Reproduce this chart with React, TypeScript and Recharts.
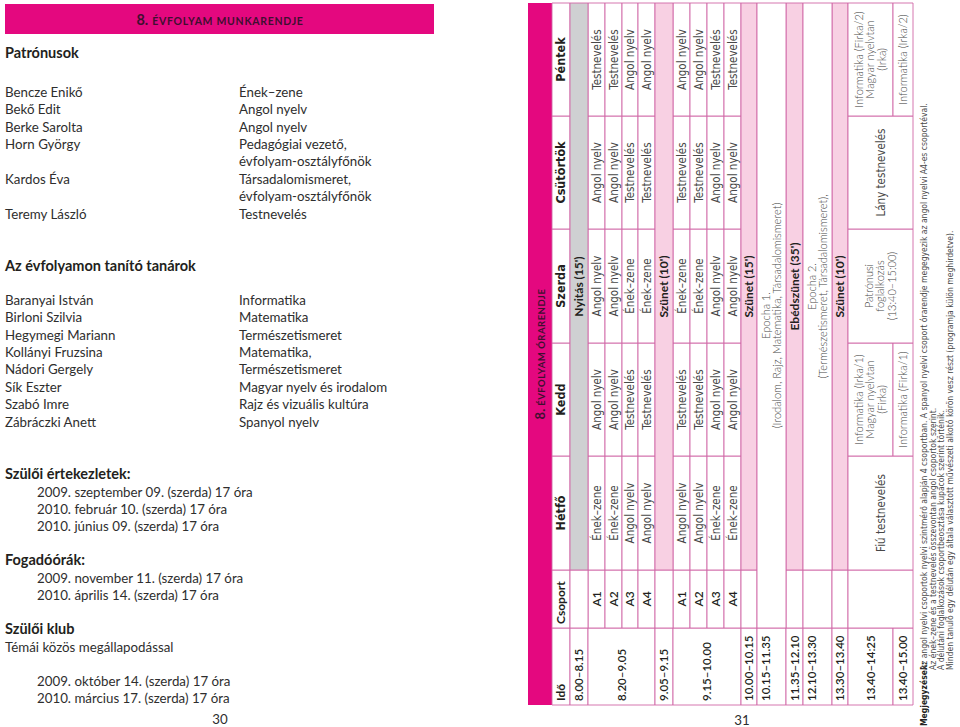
import React from 'react';
import { Surface, Layer, Rectangle, Text } from 'recharts';

// ---- left page data ----
const leftTitle = 'ÉVFOLYAM MUNKARENDJE';
const patronNames = ['Bencze Enikő', 'Bekő Edit', 'Berke Sarolta', 'Horn György', '', 'Kardos Éva', '', 'Teremy László'];
const patronRoles = [
  'Ének–zene',
  'Angol nyelv',
  'Angol nyelv',
  'Pedagógiai vezető,',
  'évfolyam-osztályfőnök',
  'Társadalomismeret,',
  'évfolyam-osztályfőnök',
  'Testnevelés',
];
const teacherNames = [
  'Baranyai István',
  'Birloni Szilvia',
  'Hegymegi Mariann',
  'Kollányi Fruzsina',
  'Nádori Gergely',
  'Sík Eszter',
  'Szabó Imre',
  'Zábráczki Anett',
];
const teacherSubjects = [
  'Informatika',
  'Matematika',
  'Természetismeret',
  'Matematika,',
  'Természetismeret',
  'Magyar nyelv és irodalom',
  'Rajz és vizuális kultúra',
  'Spanyol nyelv',
];
const meetings = [
  '2009. szeptember 09. (szerda) 17 óra',
  '2010. február 10. (szerda) 17 óra',
  '2010. június 09. (szerda) 17 óra',
];
const officeHours = ['2009. november 11. (szerda) 17 óra', '2010. április 14. (szerda) 17 óra'];
const clubDates = ['2009. október 14. (szerda) 17 óra', '2010. március 17. (szerda) 17 óra'];

// ---- timetable data ----
const tableTitle = 'ÉVFOLYAM ÓRARENDJE';
const days = ['Hétfő', 'Kedd', 'Szerda', 'Csütörtök', 'Péntek'];
const groupNames = ['A1', 'A2', 'A3', 'A4'];
const times = [
  '8.00–8.15',
  '8.20–9.05',
  '9.05–9.15',
  '9.15–10.00',
  '10.00–10.15',
  '10.15–11.35',
  '11.35–12.10',
  '12.10–13.30',
  '13.30–13.40',
  '13.40–14:25',
  '13.40–15.00',
];
const firstBlock = [
  ['Ének–zene', 'Angol nyelv', 'Angol nyelv', 'Angol nyelv', 'Testnevelés'],
  ['Ének–zene', 'Angol nyelv', 'Angol nyelv', 'Angol nyelv', 'Testnevelés'],
  ['Angol nyelv', 'Testnevelés', 'Ének–zene', 'Testnevelés', 'Angol nyelv'],
  ['Angol nyelv', 'Testnevelés', 'Ének–zene', 'Testnevelés', 'Angol nyelv'],
];
const secondBlock = [
  ['Angol nyelv', 'Testnevelés', 'Ének–zene', 'Testnevelés', 'Angol nyelv'],
  ['Angol nyelv', 'Testnevelés', 'Ének–zene', 'Testnevelés', 'Angol nyelv'],
  ['Ének–zene', 'Angol nyelv', 'Angol nyelv', 'Angol nyelv', 'Testnevelés'],
  ['Ének–zene', 'Angol nyelv', 'Angol nyelv', 'Angol nyelv', 'Testnevelés'],
];
const breaks = ["Nyitás (15')", "Szünet (10')", "Szünet (15')", "Ebédszünet (35')", "Szünet (10')"];
const epochs = [
  ['Epocha 1.', '(Irodalom, Rajz, Matematika, Társadalomismeret)'],
  ['Epocha 2.', '(Természetismeret, Társadalomismeret),'],
];
const afternoonFirst = [
  ['Fiú testnevelés'],
  ['Informatika (Irka/1)', 'Magyar nyelvtan', '(Firka)'],
  ['Patrónusi', 'foglalkozás', '(13:40–15:00)'],
  ['Lány testnevelés'],
  ['Informatika (Firka/2)', 'Magyar nyelvtan', '(Irka)'],
];
const afternoonSecond = [null, ['Informatika (Firka/1)'], null, null, ['Informatika (Irka/2)']];
const notesLabel = 'Megjegyzések:';
const notes = [
  'Az angol nyelvi csoportok nyelvi szintmérő alapján 4 csoportban. A spanyol nyelvi csoport órarendje megegyezik az angol nyelvi A4-es csoportéval.',
  'Az ének–zene és a testnevelés összevontan angol csoportok szerint.',
  'A délutáni foglalkozások csoportbeosztása kupacok szerint történik.',
  'Minden tanuló egy délután egy általa választott művészeti alkotó körön vesz részt (programja külön meghirdetve).',
];

// ---- layout ----
const W = 960;
const H = 727;
const MAGENTA = '#e4087f';
const TITLE_INK = '#3f0f30';
const LINE = '#d066a6';
const PINK = '#f8d0e3';
const GREY = '#cfd0d2';
const INK = '#231f20';
const SOFT = '#474747';
const SANS = "Lato, 'Open Sans', sans-serif";
const NARROW = "'Liberation Sans Narrow', 'DejaVu Sans Condensed', sans-serif";

// table is drawn in its own frame, rotated 90° counter-clockwise onto the page
const ORIGIN_X = 528;
const ORIGIN_Y = 705;
const COL = [0, 77, 135, 249, 362, 476, 589, 702];
const ROW = [0, 24, 42, 60, 77, 94, 110, 127, 145, 162, 179, 196, 213, 229, 258, 275, 304, 320, 365, 385];
const timeSpans = [[2, 3], [3, 7], [7, 8], [8, 12], [12, 13], [13, 14], [14, 15], [15, 16], [16, 17], [17, 18], [18, 19]];
const breakRows = [2, 7, 12, 14, 16];

type Kind = 'head' | 'headL' | 'time' | 'group' | 'cell' | 'break' | 'wide';
type Cell = { c0: number; c1: number; r0: number; r1: number; lines: string[]; kind: Kind; fill?: string; top?: boolean };

const styles: Record<Kind, any> = {
  head: { fontFamily: NARROW, fontWeight: 700, fontSize: 12.5, fill: INK },
  headL: { fontFamily: SANS, fontWeight: 700, fontSize: 12, fill: INK },
  time: { fontFamily: SANS, fontWeight: 600, fontSize: 11.5, fill: INK },
  group: { fontFamily: SANS, fontWeight: 600, fontSize: 12, fill: INK },
  cell: { fontFamily: NARROW, fontWeight: 400, fontSize: 11.5, fill: SOFT },
  break: { fontFamily: SANS, fontWeight: 700, fontSize: 12, fill: INK },
  wide: { fontFamily: SANS, fontWeight: 300, fontSize: 11, fill: SOFT },
};

function buildCells(): Cell[] {
  const out: Cell[] = [];
  const add = (c0: number, c1: number, r0: number, r1: number, lines: string[], kind: Kind, fill?: string, top?: boolean) =>
    out.push({ c0, c1, r0, r1, lines, kind, fill, top });

  add(0, 1, 1, 2, ['Idő'], 'headL');
  add(1, 2, 1, 2, ['Csoport'], 'headL');
  days.forEach((d, i) => add(i + 2, i + 3, 1, 2, [d], 'head'));

  timeSpans.forEach(([r0, r1], i) => add(0, 1, r0, r1, [times[i]], 'time', undefined, i === 5 || i === 7));

  const blocks: [number, string[][]][] = [[3, firstBlock], [8, secondBlock]];
  blocks.forEach(([start, block]) =>
    block.forEach((row, g) => {
      add(1, 2, start + g, start + g + 1, [groupNames[g]], 'group');
      row.forEach((s, d) => add(d + 2, d + 3, start + g, start + g + 1, [s], 'cell'));
    })
  );

  [2, 7, 12, 14, 15, 16].forEach((r) => add(1, 2, r, r + 1, [], 'cell'));
  add(1, 2, 17, 19, [], 'cell');

  breakRows.forEach((r, i) => add(2, 7, r, r + 1, [breaks[i]], 'break', i === 0 ? GREY : PINK));

  add(1, 7, 13, 14, epochs[0], 'wide');
  add(2, 7, 15, 16, epochs[1], 'wide');

  afternoonFirst.forEach((lines, d) => {
    const second = afternoonSecond[d];
    const kind: Kind = lines[0].includes('testnevelés') ? 'cell' : 'wide';
    if (second) {
      add(d + 2, d + 3, 17, 18, lines, kind);
      add(d + 2, d + 3, 18, 19, second, 'wide');
    } else {
      add(d + 2, d + 3, 17, 19, lines, kind);
    }
  });
  return out;
}

const Line = ({ x, y, children, style, anchor = 'start' }: any) => (
  <Text x={x} y={y} textAnchor={anchor} verticalAnchor="middle" {...style}>
    {children}
  </Text>
);

const bodyStyle = { fontFamily: SANS, fontWeight: 400, fontSize: 13.3, fill: '#2e2e2e' };
const headStyle = { fontFamily: SANS, fontWeight: 700, fontSize: 14.5, fill: INK };

const LeftPage = () => {
  const step = 17.4;
  return (
    <Layer>
      <Rectangle x={5} y={4} width={429} height={30} fill={MAGENTA} />
      <text x={220} y={24.5} textAnchor="middle" fill={TITLE_INK} fontFamily={SANS} fontWeight={700}>
        <tspan fontSize={14.5}>8.</tspan>
        <tspan fontSize={10.5} dx={4} letterSpacing={0.7}>
          {leftTitle}
        </tspan>
      </text>

      <Line x={5} y={53} style={headStyle}>Patrónusok</Line>
      {patronNames.map((n, i) => n && <Line key={`pn${i}`} x={5} y={92 + i * step} style={bodyStyle}>{n}</Line>)}
      {patronRoles.map((r, i) => <Line key={`pr${i}`} x={239} y={92 + i * step} style={bodyStyle}>{r}</Line>)}

      <Line x={5} y={266} style={headStyle}>Az évfolyamon tanító tanárok</Line>
      {teacherNames.map((n, i) => <Line key={`tn${i}`} x={5} y={300 + i * step} style={bodyStyle}>{n}</Line>)}
      {teacherSubjects.map((s, i) => <Line key={`ts${i}`} x={239} y={300 + i * step} style={bodyStyle}>{s}</Line>)}

      <Line x={5} y={474} style={headStyle}>Szülői értekezletek:</Line>
      {meetings.map((m, i) => <Line key={`m${i}`} x={37} y={492 + i * 17} style={bodyStyle}>{m}</Line>)}

      <Line x={5} y={560} style={headStyle}>Fogadóórák:</Line>
      {officeHours.map((m, i) => <Line key={`o${i}`} x={37} y={578 + i * 17} style={bodyStyle}>{m}</Line>)}

      <Line x={5} y={629} style={headStyle}>Szülői klub</Line>
      <Line x={5} y={647} style={bodyStyle}>Témái közös megállapodással</Line>
      {clubDates.map((m, i) => <Line key={`c${i}`} x={37} y={681 + i * 17} style={bodyStyle}>{m}</Line>)}

      <Line x={220} y={719} anchor="middle" style={bodyStyle}>30</Line>
    </Layer>
  );
};

const RightPage = () => {
  const cells = buildCells();
  const lh = (k: Kind) => (k === 'wide' ? 11.8 : 12);
  return (
    <Layer>
      <g transform={`translate(${ORIGIN_X},${ORIGIN_Y}) rotate(-90)`}>
        <Rectangle x={COL[0]} y={ROW[0]} width={COL[7]} height={ROW[1]} fill={MAGENTA} />
        <text x={COL[7] / 2} y={17} textAnchor="middle" fill={TITLE_INK} fontFamily={SANS} fontWeight={700}>
          <tspan fontSize={13}>8.</tspan>
          <tspan fontSize={9.5} dx={3} letterSpacing={0.5}>
            {tableTitle}
          </tspan>
        </text>

        {cells.map((c, i) => (
          <Rectangle
            key={`r${i}`}
            x={COL[c.c0]}
            y={ROW[c.r0]}
            width={COL[c.c1] - COL[c.c0]}
            height={ROW[c.r1] - ROW[c.r0]}
            fill={c.fill || '#ffffff'}
            stroke={LINE}
            strokeWidth={0.9}
          />
        ))}

        {cells.map((c, i) => {
          const n = c.lines.length;
          const h = lh(c.kind);
          const left = c.kind === 'time' || c.kind === 'headL';
          const x = left ? COL[c.c0] + 4 : (COL[c.c0] + COL[c.c1]) / 2;
          const mid = (ROW[c.r0] + ROW[c.r1]) / 2;
          const y0 = c.top ? mid - 6 : mid - ((n - 1) * h) / 2;
          return c.lines.map((s, j) => (
            <Line key={`t${i}-${j}`} x={x} y={y0 + j * h} anchor={left ? 'start' : 'middle'} style={styles[c.kind]}>
              {s}
            </Line>
          ));
        })}

        <Line x={-21} y={396} style={{ fontFamily: NARROW, fontWeight: 700, fontSize: 8.5, fill: INK }}>
          {notesLabel}
        </Line>
        {notes.map((s, i) => (
          <Line key={`n${i}`} x={35} y={396 + i * 8.6} style={{ fontFamily: NARROW, fontWeight: 400, fontSize: 8.5, fill: SOFT }}>
            {s}
          </Line>
        ))}
      </g>
      <Line x={742} y={720} anchor="middle" style={bodyStyle}>31</Line>
    </Layer>
  );
};

export default function App() {
  return (
    <div style={{ position: 'absolute', left: 0, top: 0, width: W, height: H, background: '#ffffff' }}>
      <Surface width={W} height={H}>
        <LeftPage />
        <RightPage />
      </Surface>
    </div>
  );
}
